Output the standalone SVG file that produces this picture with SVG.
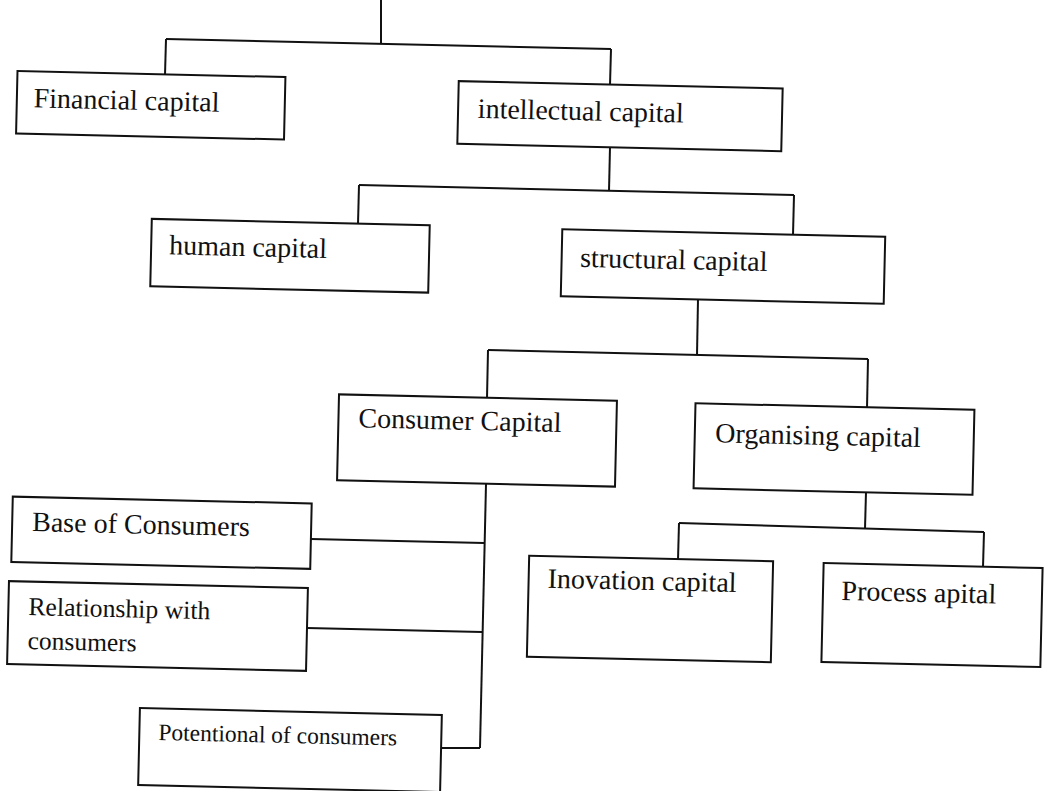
<svg xmlns="http://www.w3.org/2000/svg" width="1045" height="791" viewBox="0 0 1045 791">
<style>
.box{fill:#fff;stroke:#111;stroke-width:2}
.conn{fill:none;stroke:#111;stroke-width:2}
.lbl{font-family:"Liberation Serif","Times New Roman",serif;font-size:28px;fill:#111}
</style>
<rect width="1045" height="791" fill="#fff"/>
<g id="connectors" class="conn">
<path d="M381,0 L381,44"/>
<path d="M166,39 L611,49"/>
<path d="M166,39 L165,75"/>
<path d="M611,49 L610,85"/>
<path d="M610,147 L609,191"/>
<path d="M359,185 L794,195"/>
<path d="M359,185 L358,224"/>
<path d="M794,195 L793,235"/>
<path d="M698,299 L697,355"/>
<path d="M488,350 L868,359"/>
<path d="M488,350 L487,398"/>
<path d="M868,359 L867,408"/>
<path d="M866,492 L865,529"/>
<path d="M679,523 L984,532"/>
<path d="M679,523 L678,560"/>
<path d="M984,532 L983,567"/>
<path d="M486,484 L480,748"/>
<path d="M311,539 L484,543"/>
<path d="M307,628 L482,632"/>
<path d="M441,748 L480,748"/>
</g>
<g id="financial-capital" transform="rotate(1.3 150.75 105.25)">
<rect class="box" x="16.75" y="74" width="268" height="62.5"/>
<text class="lbl" x="33.5" y="110">Financial capital</text>
</g>
<g id="intellectual-capital" transform="rotate(1.3 620 116.2)">
<rect class="box" x="458" y="84.8" width="324" height="62.7"/>
<text class="lbl" x="477.7" y="121">intellectual capital</text>
</g>
<g id="human-capital" transform="rotate(1.3 290 255.75)">
<rect class="box" x="151" y="222" width="278" height="67.5"/>
<text class="lbl" x="169" y="257">human capital</text>
</g>
<g id="structural-capital" transform="rotate(1.3 723 266.5)">
<rect class="box" x="561.5" y="233" width="323" height="67"/>
<text class="lbl" x="580" y="270">structural capital</text>
</g>
<g id="consumer-capital" transform="rotate(1.3 477 440.5)">
<rect class="box" x="338" y="397.5" width="278" height="86"/>
<text class="lbl" x="358" y="430">Consumer Capital</text>
</g>
<g id="organising-capital" transform="rotate(1.3 834 449)">
<rect class="box" x="694.5" y="406.5" width="279" height="85"/>
<text class="lbl" x="715" y="445">Organising capital</text>
</g>
<g id="inovation-capital" transform="rotate(1.3 650 609)">
<rect class="box" x="528" y="558.5" width="244" height="101"/>
<text class="lbl" x="547" y="590">Inovation capital</text>
</g>
<g id="process-apital" transform="rotate(1.3 932 615)">
<rect class="box" x="822.5" y="565.5" width="219" height="99"/>
<text class="lbl" x="841" y="602">Process apital</text>
</g>
<g id="base-of-consumers" transform="rotate(1.3 161.5 532.75)">
<rect class="box" x="12" y="500" width="299" height="65.5"/>
<text class="lbl" x="32" y="534">Base of Consumers</text>
</g>
<g id="relationship-with-consumers" transform="rotate(1.3 157.5 626)">
<rect class="box" x="8" y="584.5" width="299" height="83"/>
<text class="lbl" x="28" y="618" style="font-size:25.7px">Relationship with</text>
<text class="lbl" x="28" y="652" style="font-size:25.5px">consumers</text>
</g>
<g id="potentional-of-consumers" transform="rotate(1.3 290 750)">
<rect class="box" x="139" y="711.5" width="302" height="77"/>
<text class="lbl" x="158" y="743" style="font-size:23.5px">Potentional of consumers</text>
</g>
</svg>
